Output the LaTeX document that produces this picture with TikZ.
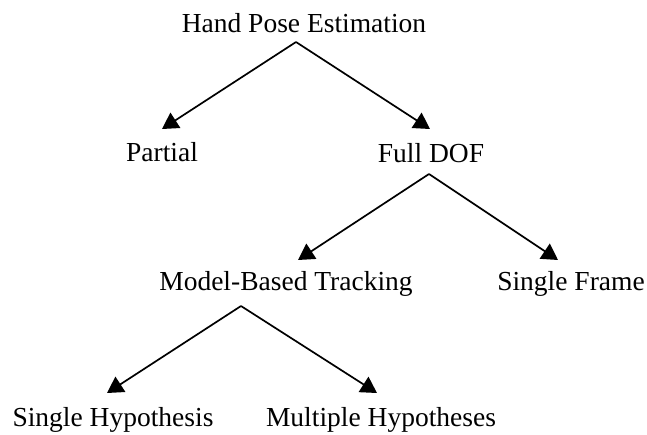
\documentclass[tikz,border=0pt]{standalone}
\usepackage{fontspec}
\setmainfont{Liberation Serif}
\usetikzlibrary{arrows.meta}
\begin{document}
\begin{tikzpicture}[x=1pt,y=-1pt,
  lbl/.style={inner sep=0pt, anchor=base, font=\fontsize{27.5}{30}\selectfont},
  arr/.style={line width=1.7pt, -{Triangle[length=16pt,width=18pt]}}]
\useasboundingbox (0,0) rectangle (647,434);
\node[lbl] (hpe) at (304,32) {Hand Pose Estimation};
\node[lbl] (partial) at (162,161) {Partial};
\node[lbl] (full) at (431,162) {Full DOF};
\node[lbl] (mbt) at (286,290) {Model-Based Tracking};
\node[lbl] (sf) at (571,290) {Single Frame};
\node[lbl] (sh) at (113,426) {Single Hypothesis};
\node[lbl] (mh) at (381,426) {Multiple Hypotheses};
\draw[arr] ([shift={(-8,10)}]hpe.base) -- ([shift={(0,-32)}]partial.base);
\draw[arr] ([shift={(-8,10)}]hpe.base) -- ([shift={(-1,-33)}]full.base);
\draw[arr] ([shift={(-2,12)}]full.base) -- ([shift={(12,-30)}]mbt.base);
\draw[arr] ([shift={(-2,12)}]full.base) -- ([shift={(-13,-30)}]sf.base);
\draw[arr] ([shift={(-45,16)}]mbt.base) -- ([shift={(-6,-33)}]sh.base);
\draw[arr] ([shift={(-45,16)}]mbt.base) -- ([shift={(-4,-33)}]mh.base);
\end{tikzpicture}
\end{document}
